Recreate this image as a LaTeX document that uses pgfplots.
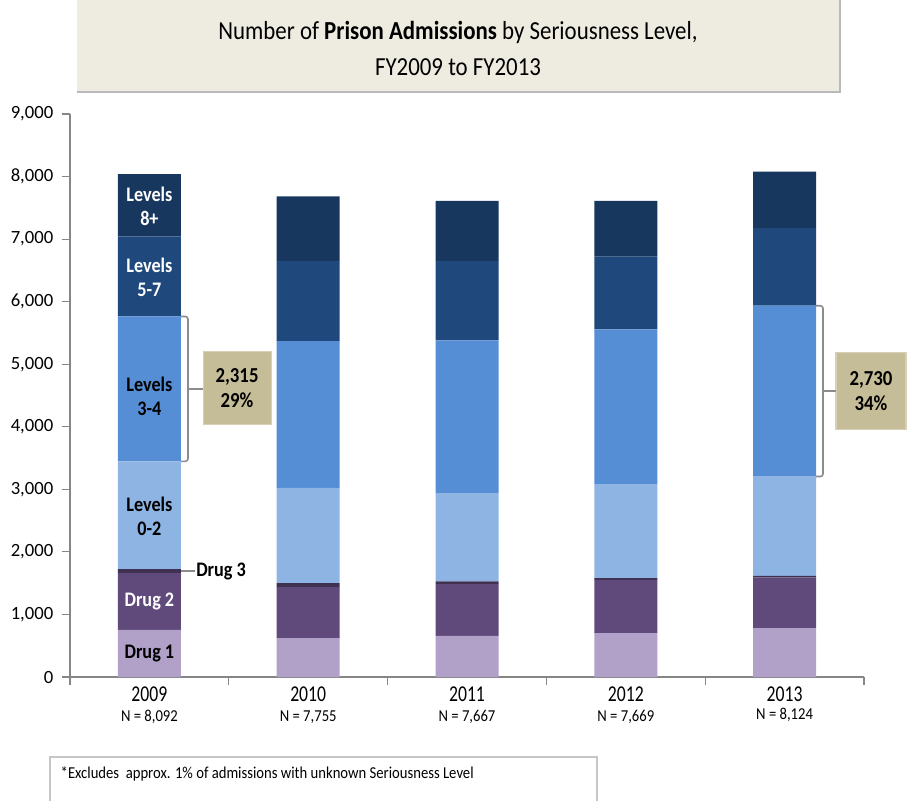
\documentclass[border=0pt]{standalone}
\usepackage{fontspec}
\setmainfont{Carlito}
\newfontfamily\cond{Carlito}[FakeStretch=0.78]
\newfontfamily\semi{Carlito}[FakeStretch=0.88]
\usepackage{pgfplots}
\pgfplotsset{compat=1.18}
\definecolor{dA}{HTML}{B1A0C7}
\definecolor{dB}{HTML}{604A7B}
\definecolor{dC}{HTML}{3F3151}
\definecolor{lA}{HTML}{8EB4E3}
\definecolor{lB}{HTML}{558ED5}
\definecolor{lC}{HTML}{1F497D}
\definecolor{lD}{HTML}{17375E}
\definecolor{titlebg}{HTML}{EEECE1}
\definecolor{callbg}{HTML}{C4BD97}
\definecolor{axgray}{HTML}{868686}
\definecolor{brgray}{HTML}{8C8C8C}
\newcommand\yearf{\cond\fontsize{17}{18}\selectfont}
\newcommand\nf{\semi\fontsize{12.5}{13}\selectfont}
\newcommand\labf{\semi\bfseries\fontsize{15.5}{18}\selectfont}
\newcommand\callf{\semi\bfseries\fontsize{16}{19}\selectfont}
\begin{document}
\begin{tikzpicture}
\begin{scope}[x=0.75pt,y=0.75pt]
\useasboundingbox (0,0) rectangle (912,800);
\fill[titlebg] (77,708) rectangle (840,800);
\draw[gray!55,line width=0.8pt] (77,708) -- (840,708) -- (840,800);
\node[font=\semi\fontsize{19.5}{20}\selectfont] at (458,768) {Number of \textbf{Prison Admissions} by Seriousness\ Level,};
\node[font=\semi\fontsize{19.5}{20}\selectfont] at (458,733) {FY2009 to FY2013};
\draw[gray!45,line width=0.8pt] (50,-2) -- (50,43) -- (597,43) -- (597,-2);
\node[anchor=west,font=\semi\fontsize{12.5}{13}\selectfont] at (56,26) {*Excludes\ \ approx. 1\% of admissions with unknown Seriousness Level};
\end{scope}
\begin{axis}[
  at={({70*0.75pt},{123*0.75pt})}, anchor=south west,
  scale only axis, width=595.5pt, height=422.25pt,
  xmin=-0.5, xmax=4.5, ymin=0, ymax=9000,
  ybar stacked, bar width=47.25pt,
  axis x line*=bottom, axis y line*=left,
  axis line style={draw=axgray, line width=0.9pt},
  tick align=outside,
  xtick={0,1,2,3,4},
  xticklabels={{\yearf 2009\\[3pt]\nf N = 8,092},{\yearf 2010\\[3pt]\nf N = 7,755},{\yearf 2011\\[3pt]\nf N = 7,667},{\yearf 2012\\[3pt]\nf N = 7,669},{\yearf 2013\\[1pt]\nf N = 8,124}},
  xticklabel style={align=center, yshift=2pt},
  major x tick style={draw=none},
  minor xtick={-0.5,0.5,1.5,2.5,3.5,4.5},
  minor tick length=6pt, major tick length=6pt,
  tick style={draw=axgray, line width=0.8pt},
  ytick={0,1000,...,9000},
  scaled y ticks=false,
  /pgf/number format/.cd, 1000 sep={,}, assume math mode=true,
  /pgfplots/.cd,
  yticklabel style={font=\fontsize{14}{14}\selectfont, xshift=-3pt},
  clip=false,
]
\addplot[fill=dA, draw=none] coordinates {(0,753) (1,620) (2,657) (3,700) (4,780)};
\addplot[fill=dB, draw=none] coordinates {(0,908) (1,816) (2,827) (3,853) (4,811)};
\addplot[fill=dC, draw=none] coordinates {(0,64) (1,64) (2,43) (3,27) (4,27)};
\addplot[fill=lA, draw=none] coordinates {(0,1723) (1,1522) (2,1404) (3,1495) (4,1587)};
\addplot[fill=lB, draw=none] coordinates {(0,2315) (1,2348) (2,2450) (3,2482) (4,2730)};
\addplot[fill=lC, draw=none] coordinates {(0,1282) (1,1281) (2,1270) (3,1164) (4,1240)};
\addplot[fill=lD, draw=none] coordinates {(0,995) (1,1032) (2,961) (3,891) (4,902)};
\coordinate (s1) at (axis cs:0,376);
\coordinate (s2) at (axis cs:0,1207);
\coordinate (s4) at (axis cs:0,2570);
\coordinate (s5) at (axis cs:0,4480);
\coordinate (s6) at (axis cs:0,6390);
\coordinate (s7) at (axis cs:0,7530);
% Drug 3 leader
\draw[brgray, line width=1.2pt] (axis cs:0.198,1693) -- (axis cs:0.285,1693);
\node[font=\labf, anchor=west, inner sep=1pt] at (axis cs:0.285,1693) {Drug 3};
% bracket 2009
\draw[brgray, line width=1.2pt, rounded corners=2pt] (axis cs:0.198,5763) -- (axis cs:0.243,5763) -- (axis cs:0.243,3448) -- (axis cs:0.198,3448);
\draw[brgray, line width=1.2pt] (axis cs:0.243,4605) -- (axis cs:0.3375,4605);
\node[fill=callbg, draw=callbg!70!white, line width=0.8pt, minimum width=51pt, minimum height=54.75pt, align=center, font=\callf] at (axis cs:0.552,4620) {2,315\\29\%};
% bracket 2013
\draw[brgray, line width=1.2pt, rounded corners=2pt] (axis cs:4.198,5935) -- (axis cs:4.242,5935) -- (axis cs:4.242,3205) -- (axis cs:4.198,3205);
\draw[brgray, line width=1.2pt] (axis cs:4.242,4570) -- (axis cs:4.324,4570);
\node[fill=callbg, draw=callbg!70!white, line width=0.8pt, minimum width=52.5pt, minimum height=57.75pt, align=center, font=\callf] at (axis cs:4.544,4572) {2,730\\34\%};
\end{axis}
\node[font=\labf, text=black] at (s1) {Drug 1};
\node[font=\labf, text=white] at (s2) {Drug 2};
\node[font=\labf, text=black, align=center] at (s4) {Levels\\0-2};
\node[font=\labf, text=black, align=center] at (s5) {Levels\\3-4};
\node[font=\labf, text=white, align=center] at (s6) {Levels\\5-7};
\node[font=\labf, text=white, align=center] at (s7) {Levels\\8+};
\end{tikzpicture}
\end{document}
